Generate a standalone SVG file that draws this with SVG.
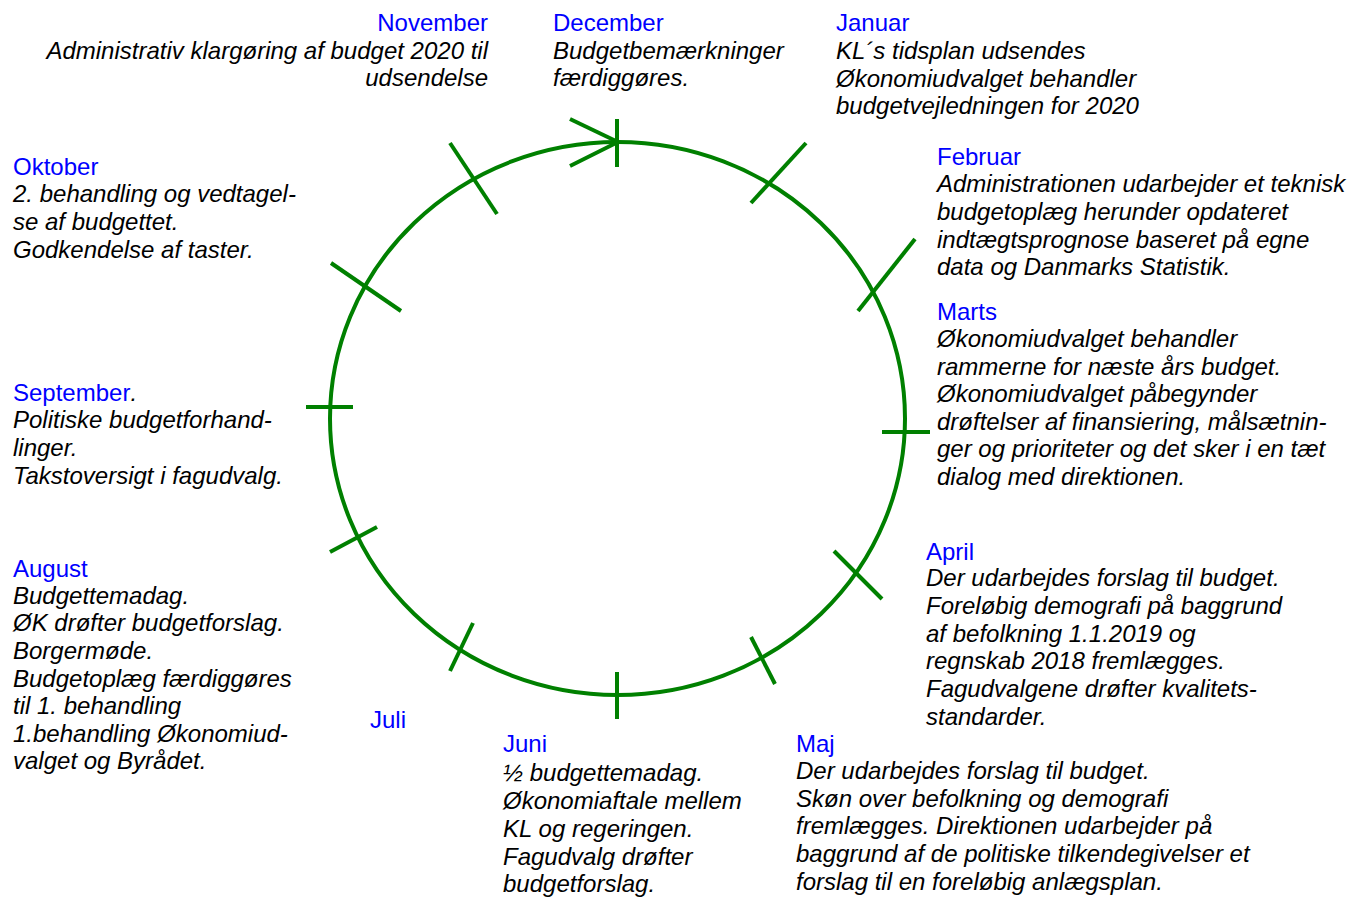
<svg xmlns="http://www.w3.org/2000/svg" width="1362" height="898" viewBox="0 0 1362 898">
<style>
text{font-family:"Liberation Sans",Arial,sans-serif;font-size:24px}
.m{fill:#0000FF}
.b{fill:#000;font-style:italic}
.g{fill:none;stroke:#008000;stroke-width:4}
</style>
<rect width="1362" height="898" fill="#fff"/>
<g id="connectors" class="g">
<ellipse cx="617.5" cy="418.5" rx="287.5" ry="276.5"/>
<line x1="570" y1="119" x2="618" y2="142"/>
<line x1="570" y1="166" x2="618" y2="142"/>
<line x1="617" y1="119" x2="617" y2="167"/>
<line x1="806" y1="143" x2="751" y2="203"/>
<line x1="915" y1="239" x2="858" y2="311"/>
<line x1="882" y1="432" x2="930" y2="432"/>
<line x1="834" y1="551" x2="882" y2="599"/>
<line x1="751" y1="637" x2="775" y2="684"/>
<line x1="617" y1="672" x2="617" y2="719"/>
<line x1="473" y1="623" x2="450" y2="671"/>
<line x1="377" y1="527" x2="330" y2="552"/>
<line x1="306" y1="407" x2="353" y2="407"/>
<line x1="331" y1="263" x2="401" y2="311"/>
<line x1="450" y1="143" x2="497" y2="214"/>
</g>
<g id="november" text-anchor="end">
<text class="m" x="488" y="31">November</text>
<text class="b" x="488" y="59">Administrativ klargøring af budget 2020 til</text>
<text class="b" x="488" y="86">udsendelse</text>
</g>
<g id="december">
<text class="m" x="553" y="31">December</text>
<text class="b" x="553" y="59">Budgetbemærkninger</text>
<text class="b" x="553" y="86">færdiggøres.</text>
</g>
<g id="januar">
<text class="m" x="836" y="31">Januar</text>
<text class="b" x="836" y="59">KL´s tidsplan udsendes</text>
<text class="b" x="836" y="87">Økonomiudvalget behandler</text>
<text class="b" x="836" y="114">budgetvejledningen for 2020</text>
</g>
<g id="februar">
<text class="m" x="937" y="165">Februar</text>
<text class="b" x="937" y="192">Administrationen udarbejder et teknisk</text>
<text class="b" x="937" y="220">budgetoplæg herunder opdateret</text>
<text class="b" x="937" y="248">indtægtsprognose baseret på egne</text>
<text class="b" x="937" y="275">data og Danmarks Statistik.</text>
</g>
<g id="marts">
<text class="m" x="937" y="320">Marts</text>
<text class="b" x="937" y="347">Økonomiudvalget behandler</text>
<text class="b" x="937" y="375">rammerne for næste års budget.</text>
<text class="b" x="937" y="402">Økonomiudvalget påbegynder</text>
<text class="b" x="937" y="430">drøftelser af finansiering, målsætnin-</text>
<text class="b" x="937" y="457">ger og prioriteter og det sker i en tæt</text>
<text class="b" x="937" y="485">dialog med direktionen.</text>
</g>
<g id="april">
<text class="m" x="926" y="560">April</text>
<text class="b" x="926" y="586">Der udarbejdes forslag til budget.</text>
<text class="b" x="926" y="614">Foreløbig demografi på baggrund</text>
<text class="b" x="926" y="642">af befolkning 1.1.2019 og</text>
<text class="b" x="926" y="669">regnskab 2018 fremlægges.</text>
<text class="b" x="926" y="697">Fagudvalgene drøfter kvalitets-</text>
<text class="b" x="926" y="725">standarder.</text>
</g>
<g id="maj">
<text class="m" x="796" y="752">Maj</text>
<text class="b" x="796" y="779">Der udarbejdes forslag til budget.</text>
<text class="b" x="796" y="807">Skøn over befolkning og demografi</text>
<text class="b" x="796" y="834">fremlægges. Direktionen udarbejder på</text>
<text class="b" x="796" y="862">baggrund af de politiske tilkendegivelser et</text>
<text class="b" x="796" y="890">forslag til en foreløbig anlægsplan.</text>
</g>
<g id="juni">
<text class="m" x="503" y="752">Juni</text>
<text class="b" x="503" y="781">½ budgettemadag.</text>
<text class="b" x="503" y="809">Økonomiaftale mellem</text>
<text class="b" x="503" y="837">KL og regeringen.</text>
<text class="b" x="503" y="865">Fagudvalg drøfter</text>
<text class="b" x="503" y="892">budgetforslag.</text>
</g>
<g id="juli">
<text class="m" x="370" y="728">Juli</text>
</g>
<g id="august">
<text class="m" x="13" y="577">August</text>
<text class="b" x="13" y="604">Budgettemadag.</text>
<text class="b" x="13" y="631">ØK drøfter budgetforslag.</text>
<text class="b" x="13" y="659">Borgermøde.</text>
<text class="b" x="13" y="687">Budgetoplæg færdiggøres</text>
<text class="b" x="13" y="714">til 1. behandling</text>
<text class="b" x="13" y="742">1.behandling Økonomiud-</text>
<text class="b" x="13" y="769">valget og Byrådet.</text>
</g>
<g id="september">
<text x="13" y="401"><tspan class="m">September</tspan><tspan class="b">.</tspan></text>
<text class="b" x="13" y="428">Politiske budgetforhand-</text>
<text class="b" x="13" y="456">linger.</text>
<text class="b" x="13" y="484">Takstoversigt i fagudvalg.</text>
</g>
<g id="oktober">
<text class="m" x="13" y="175">Oktober</text>
<text class="b" x="13" y="202">2. behandling og vedtagel-</text>
<text class="b" x="13" y="230">se af budgettet.</text>
<text class="b" x="13" y="258">Godkendelse af taster.</text>
</g>
</svg>
